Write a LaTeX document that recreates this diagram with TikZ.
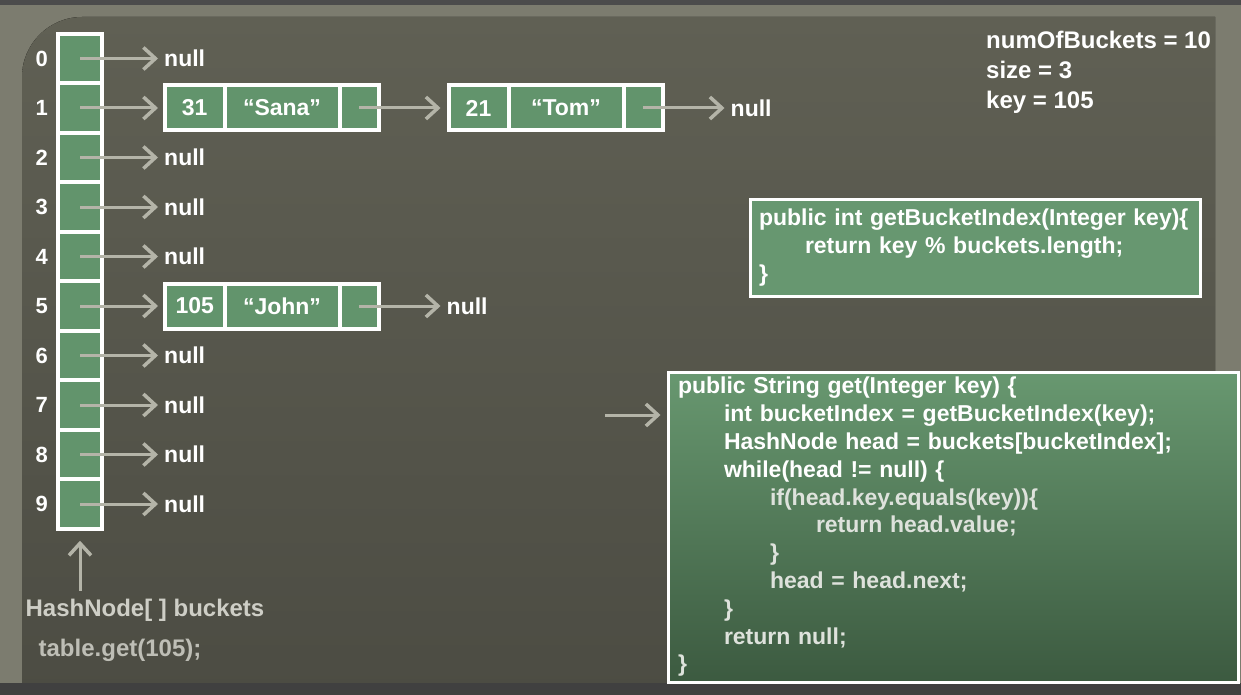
\documentclass[tikz,border=0pt]{standalone}
\usepackage{fontspec}
\setmainfont{Liberation Sans}
\usepackage{tikz}
\usetikzlibrary{positioning}
\usetikzlibrary{arrows.meta}

\definecolor{outerbg}{RGB}{124,124,111}
\definecolor{slidetop}{RGB}{96,96,84}
\definecolor{slidebot}{RGB}{76,76,67}
\definecolor{cellgreen}{RGB}{98,148,108}
\definecolor{codetop}{RGB}{104,152,112}
\definecolor{codebot}{RGB}{60,90,64}
\definecolor{ptrgrey}{RGB}{180,180,168}
\definecolor{lblgrey}{RGB}{206,206,198}
\definecolor{callgrey}{RGB}{190,190,182}
\definecolor{fadewhite}{RGB}{222,226,220}

\newcommand{\tabin}{\hspace*{46pt}}

\tikzset{
  bucket/.style={draw=white, line width=4pt, fill=cellgreen, minimum width=44pt, minimum height=49.5pt, inner sep=0pt, outer sep=0pt},
  cell/.style={draw=white, line width=4pt, fill=cellgreen, minimum height=45pt, inner sep=0pt, outer sep=0pt, text=white, font=\fontsize{23}{27}\selectfont\bfseries},
  idx/.style={inner sep=0pt, text=white, font=\fontsize{22}{26}\selectfont\bfseries},
  nulltxt/.style={inner sep=2pt, text=white, font=\fontsize{23}{27}\selectfont\bfseries},
  ptr/.style={draw=ptrgrey, line width=3pt, -{Straight Barb[length=12pt,width=22pt,line width=3.5pt]}, shorten >=4pt},
  codebox/.style={draw=white, line width=3pt, align=left, text=white, font=\fontsize{23}{27.8}\selectfont\bfseries},
  info/.style={inner sep=0pt, align=left, text=white, font=\fontsize{24}{30}\selectfont\bfseries}
}

\begin{document}
\begin{tikzpicture}[x=1pt, y=-1pt]

\useasboundingbox (0,0) rectangle (1241,695);
\fill[outerbg] (0,0) rectangle (1241,695);
\fill[black!70] (0,0) rectangle (1241,5);
\fill[top color=slidetop, bottom color=slidebot] (22,695) -- (22,77) .. controls (22,44) and (49,17) .. (82,17) -- (1215,17) -- (1215,695) -- cycle;
\fill[black!75] (0,683) rectangle (1241,695);

\foreach \i in {0,...,9} {
  \node[bucket] (b\i) at (80,58.5+49.5*\i) {};
  \node[idx, left=10pt of b\i] (i\i) {\i};
}

\foreach \i in {0,2,3,4,6,7,8,9} {
  \node[nulltxt, right=60pt of b\i] (n\i) {null};
  \draw[ptr] (b\i.center) -- (n\i);
}

\node[cell, minimum width=59.5pt, right=63pt of b1] (k1) {31};
\node[cell, minimum width=115pt, right=0pt of k1] (v1) {“Sana”};
\node[cell, minimum width=39pt, right=0pt of v1] (p1) {};
\node[cell, minimum width=60pt, right=70pt of p1] (k1b) {21};
\node[cell, minimum width=115pt, right=0pt of k1b] (v1b) {“Tom”};
\node[cell, minimum width=39pt, right=0pt of v1b] (p1b) {};
\node[nulltxt, right=66pt of p1b] (n1) {null};

\node[cell, minimum width=59.5pt, right=63pt of b5] (k5) {105};
\node[cell, minimum width=115pt, right=0pt of k5] (v5) {“John”};
\node[cell, minimum width=39pt, right=0pt of v5] (p5) {};
\node[nulltxt, right=66pt of p5] (n5) {null};

\draw[ptr, shorten >=7pt] (b1.center) -- (k1);
\draw[ptr, shorten >=8pt] (p1.center) -- (k1b);
\draw[ptr] (p1b.center) -- (n1);
\draw[ptr, shorten >=7pt] (b5.center) -- (k5);
\draw[ptr] (p5.center) -- (n5);

\node[info, anchor=north west] (stats) at (986,31) {numOfBuckets = 10\\size = 3\\key = 105};

\node[codebox, fill=cellgreen!97!white, minimum width=450pt, minimum height=97pt, text width=432pt, inner xsep=9pt] (idxbox) at (975,247.5)
  {public int getBucketIndex(Integer key)\{\\
   \tabin return key \% buckets.length;\\
   \}};

\node[codebox, top color=codetop, bottom color=codebot, minimum width=570pt, minimum height=310pt, text width=550pt, inner xsep=10pt] (getbox) at (953,527)
  {public String get(Integer key) \{\\
   \tabin int bucketIndex = getBucketIndex(key);\\
   \tabin HashNode head = buckets[bucketIndex];\\
   \tabin while(head != null) \{\\
   \color{fadewhite}\tabin\tabin if(head.key.equals(key))\{\\
   \color{fadewhite}\tabin\tabin\tabin return head.value;\\
   \color{fadewhite}\tabin\tabin \}\\
   \color{fadewhite}\tabin\tabin head = head.next;\\
   \color{fadewhite}\tabin \}\\
   \color{fadewhite}\tabin return null;\\
   \color{fadewhite}\}};

\coordinate (caller) at (605,415);
\draw[ptr, shorten >=6pt] (caller) -- (caller -| getbox.west);

\node[inner sep=0pt, text=lblgrey, font=\fontsize{24}{28}\selectfont\bfseries] (bname) at (145,610) {HashNode[ ] buckets};
\node[inner sep=0pt, text=callgrey, font=\fontsize{24}{28}\selectfont\bfseries] (call) at (120,650) {table.get(105);};

\draw[ptr, shorten <=8pt, shorten >=12pt] (bname.north -| b9) -- (b9.south);

\end{tikzpicture}
\end{document}
